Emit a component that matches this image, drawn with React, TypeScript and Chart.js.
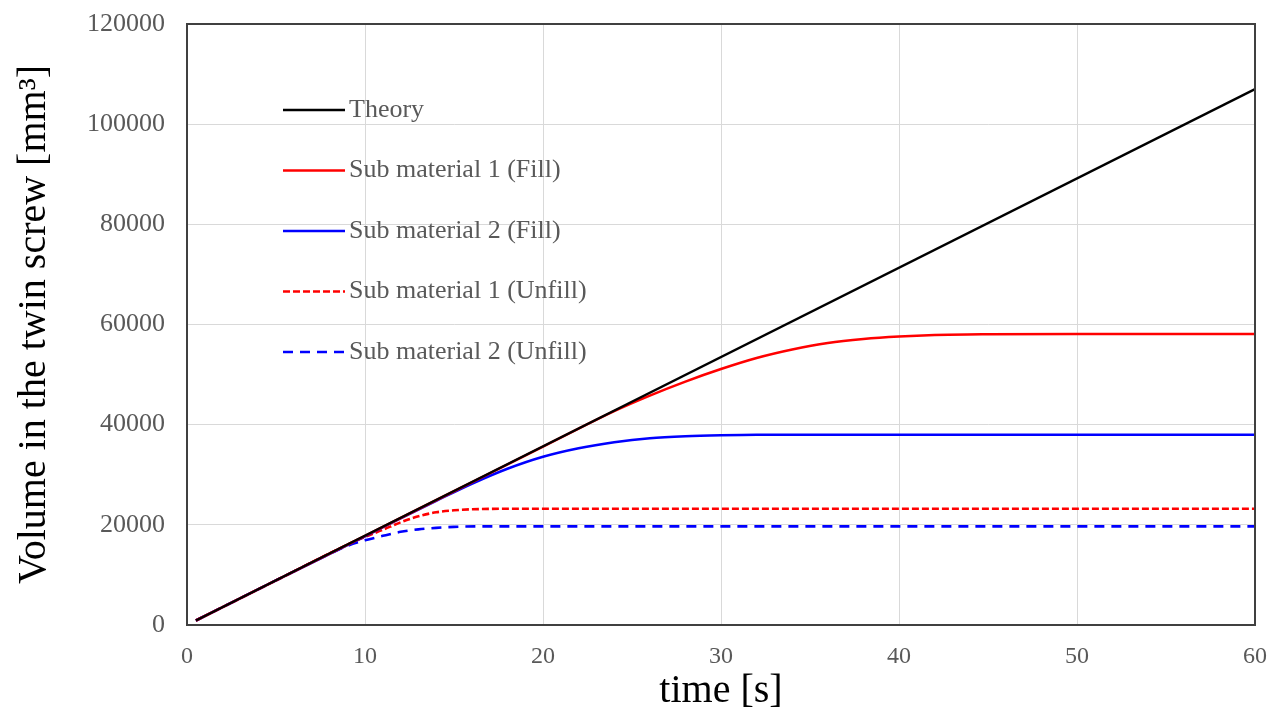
import React, { useEffect, useRef } from "react";
import { Chart, registerables } from "chart.js";

Chart.register(...registerables);

const theoryT = [0.5, 60];
const theoryV = [900, 107000];

const fill1T = [0.5, 5, 10, 15, 20, 22, 24, 26, 28, 30, 32, 34, 36, 38, 40, 42, 45, 50, 60];
const fill1V = [900, 8900, 17800, 26700, 35600, 39200, 42700, 45800, 48600, 51100, 53300, 55000, 56300, 57100, 57600, 57900, 58050, 58100, 58100];

const fill2T = [0.5, 5, 10, 12, 14, 16, 18, 20, 22, 24, 26, 28, 30, 32, 60];
const fill2V = [900, 8900, 17700, 21300, 24800, 28200, 31200, 33600, 35300, 36500, 37300, 37700, 37900, 38000, 38000];

const unfill1T = [0.5, 5, 9, 10, 11, 12, 13, 14, 15, 16, 18, 20, 60];
const unfill1V = [900, 8900, 16000, 17600, 19000, 20500, 21700, 22500, 22900, 23100, 23200, 23200, 23200];

const unfill2T = [0.5, 5, 8, 9, 10, 11, 12, 13, 14, 15, 17, 20, 60];
const unfill2V = [900, 8900, 14200, 15800, 16900, 17800, 18600, 19100, 19400, 19600, 19700, 19700, 19700];

const seriesNames = [
  "Theory",
  "Sub material 1 (Fill)",
  "Sub material 2 (Fill)",
  "Sub material 1 (Unfill)",
  "Sub material 2 (Unfill)",
];

const xTicks = [0, 10, 20, 30, 40, 50, 60];
const yTicks = [0, 20000, 40000, 60000, 80000, 100000, 120000];

const FONT = "'Liberation Serif', 'Times New Roman', serif";

const pts = (t: number[], v: number[]) => t.map((x, i) => ({ x, y: v[i] }));

const legendPlugin = {
  id: "innerLegend",
  afterDraw(chart: any) {
    const ctx = chart.ctx;
    const area = chart.chartArea;
    const x0 = area.left + 96;
    const x1 = x0 + 62;
    const rowY0 = area.top + 86;
    const rowStep = 60.5;
    ctx.save();
    chart.data.datasets.forEach((ds: any, i: number) => {
      const y = rowY0 + i * rowStep;
      ctx.beginPath();
      ctx.strokeStyle = ds.borderColor;
      ctx.lineWidth = ds.borderWidth;
      ctx.setLineDash(ds.borderDash || []);
      ctx.moveTo(x0, y);
      ctx.lineTo(x1, y);
      ctx.stroke();
      ctx.setLineDash([]);
      ctx.fillStyle = "#595959";
      ctx.font = `26px ${FONT}`;
      ctx.textBaseline = "middle";
      ctx.textAlign = "left";
      ctx.fillText(ds.label, x1 + 4, y);
    });
    // plot border
    ctx.strokeStyle = "#404040";
    ctx.lineWidth = 2;
    ctx.strokeRect(area.left, area.top, area.right - area.left, area.bottom - area.top);
    ctx.restore();
  },
};

export default function App() {
  const ref = useRef<HTMLCanvasElement | null>(null);
  useEffect(() => {
    if (!ref.current) return;
    const common = { pointRadius: 0, fill: false, cubicInterpolationMode: "monotone" as const, borderWidth: 2.6 };
    const chart = new Chart(ref.current, {
      type: "line",
      data: {
        datasets: [
          { ...common, label: seriesNames[0], data: pts(theoryT, theoryV), borderColor: "#000000", borderWidth: 2.3 },
          { ...common, label: seriesNames[1], data: pts(fill1T, fill1V), borderColor: "#ff0000" },
          { ...common, label: seriesNames[2], data: pts(fill2T, fill2V), borderColor: "#0000ff" },
          { ...common, label: seriesNames[3], data: pts(unfill1T, unfill1V), borderColor: "#ff0000", borderDash: [7, 3] },
          { ...common, label: seriesNames[4], data: pts(unfill2T, unfill2V), borderColor: "#0000ff", borderDash: [10, 7] },
        ],
      },
      options: {
        animation: false,
        responsive: true,
        maintainAspectRatio: false,
        layout: { padding: { left: 0, right: 17, top: 24, bottom: 0 } },
        plugins: { legend: { display: false }, tooltip: { enabled: false } },
        scales: {
          x: {
            type: "linear",
            min: 0,
            max: 60,
            afterBuildTicks: (s: any) => { s.ticks = xTicks.map((v) => ({ value: v })); },
            afterFit: (s: any) => { s.height = 91; s.paddingLeft = 0; s.paddingRight = 0; },
            grid: { color: "#d9d9d9", lineWidth: 1, drawTicks: false },
            border: { display: true, color: "#404040", width: 2 },
            ticks: { color: "#595959", font: { family: FONT, size: 24 }, padding: 17, callback: (v: any) => String(v) },
            title: { display: true, text: "time [s]", color: "#000", font: { family: FONT, size: 40, lineHeight: 1 }, padding: { top: 0, bottom: 5 } },
          },
          y: {
            type: "linear",
            min: 0,
            max: 120000,
            afterBuildTicks: (s: any) => { s.ticks = yTicks.map((v) => ({ value: v })); },
            afterFit: (s: any) => { s.width = 187; s.paddingTop = 0; s.paddingBottom = 0; },
            grid: { color: "#d9d9d9", lineWidth: 1, drawTicks: false },
            border: { display: true, color: "#404040", width: 2 },
            ticks: { color: "#595959", font: { family: FONT, size: 26 }, padding: 22, callback: (v: any) => String(v) },
            title: { display: true, text: "Volume in the twin screw [mm³]", color: "#000", font: { family: FONT, size: 40, lineHeight: 1 }, padding: { top: 14, bottom: 0 } },
          },
        },
      },
      plugins: [legendPlugin],
    });
    return () => chart.destroy();
  }, []);
  return (
    <div style={{ position: "fixed", left: 0, top: 0, width: 1272, height: 716, background: "#fff" }}>
      <canvas ref={ref} />
    </div>
  );
}
